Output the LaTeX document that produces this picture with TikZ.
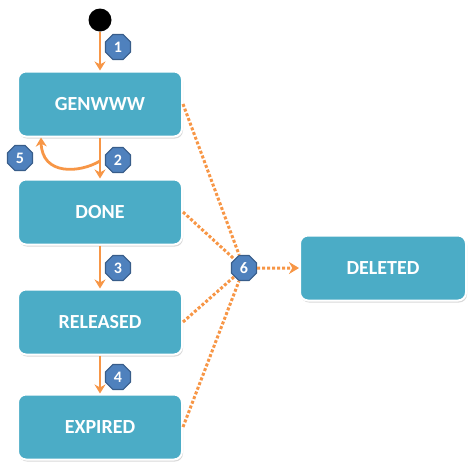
\documentclass[tikz,border=0pt]{standalone}
\usepackage{fontspec}
\setmainfont{Carlito}
\usetikzlibrary{shapes.geometric,arrows.meta,shadows}
\definecolor{statoblu}{HTML}{4BACC6}
\definecolor{frecciaor}{HTML}{F79646}
\definecolor{badgeblu}{HTML}{4F81BD}
\definecolor{badgebordo}{HTML}{385D8A}

\begin{document}
\begin{tikzpicture}[x=1pt, y=-1pt,
    stato/.style={rectangle, rounded corners=8pt, fill=statoblu, draw=white, line width=2pt,
        minimum width=164pt, minimum height=65pt, text=white,
        font=\fontsize{20}{22}\selectfont\bfseries,
        drop shadow={opacity=0.3, shadow xshift=1pt, shadow yshift=-2pt}},
    badge/.style={regular polygon, regular polygon sides=8, fill=badgeblu, draw=badgebordo,
        line width=1.2pt, minimum size=27pt, inner sep=0pt, text=white,
        font=\fontsize{16}{16}\selectfont\bfseries},
    freccia/.style={-{Stealth[length=9pt,width=11pt]}, line width=2.8pt, frecciaor},
    punti/.style={line width=3pt, frecciaor, dash pattern=on 3pt off 2pt}
]
        \useasboundingbox (0,0) rectangle (476,472);

        % =========================================
        % === STATI (colonna a sinistra) ===
        % =========================================
        \node[circle, fill=black, minimum size=23pt, inner sep=0pt] (inizio) at (100, 20) {};

        \node[stato] (genwww) at (100, 104) {GENWWW};
        \node[stato] (done) at (100, 212) {DONE};
        \node[stato] (released) at (100, 322) {RELEASED};
        \node[stato] (expired) at (100, 427) {EXPIRED};

        % Stato finale a destra
        \node[stato, minimum width=166pt] (deleted) at (383, 268) {DELETED};

        % =========================================
        % === TRANSIZIONI ===
        % =========================================
        \draw[freccia] (inizio) -- (genwww);
        \draw[freccia] (genwww) -- (done);
        \draw[freccia] (done) -- (released);
        \draw[freccia] (released) -- (expired);

        % Ritorno a GENWWW
        \coordinate (partenza5) at (100, 161);
        \coordinate (arrivo5) at ([xshift=24pt]genwww.south west);
        \draw[freccia] (partenza5) .. controls (80, 173) and (42, 176) .. (arrivo5);

        % Numeri delle transizioni
        \node[badge] (b1) at (118, 47) {1};
        \node[badge] (b2) at (118, 160) {2};
        \node[badge] (b5) at (20, 158) {5};
        \node[badge] (b3) at (118, 268) {3};
        \node[badge] (b4) at (118, 377) {4};
        \node[badge] (b6) at (244, 268) {6};

        % Linee tratteggiate verso DELETED
        \draw[punti] (genwww.east) -- (b6);
        \draw[punti] (done.east) -- (b6);
        \draw[punti] (released.east) -- (b6);
        \draw[punti] (expired.east) -- (b6);
        \draw[punti, -{Stealth[length=10pt,width=12pt]}] (b6) -- (deleted);

\end{tikzpicture}
\end{document}
